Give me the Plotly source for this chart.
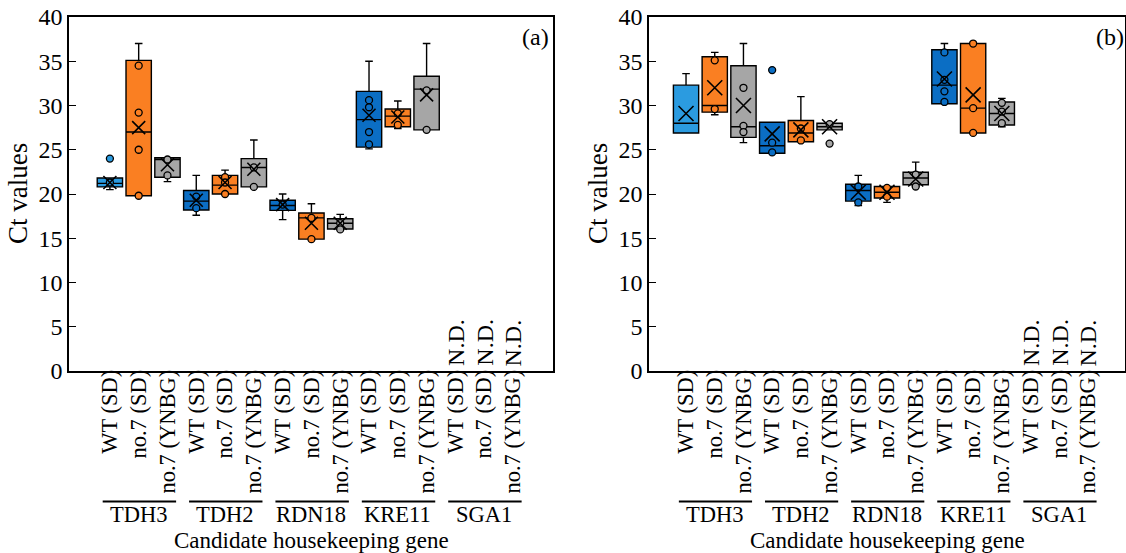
import plotly.graph_objects as go

# ---------------- data ----------------
genes = ["TDH3", "TDH2", "RDN18", "KRE11", "SGA1"]
conditions = ["WT (SD)", "no.7 (SD)", "no.7 (YNBG)"]
tick_labels = [c for g in genes for c in conditions]
nd_labels = ["N.D.", "N.D.", "N.D."]  # SGA1 not detected

# Panel (a)
a_q1 = [20.8, 19.8, 21.9, 18.2, 20.0, 20.8, 18.15, 14.9, 16.05, 25.3, 27.6, 27.25]
a_med = [21.2, 27.0, 23.9, 19.2, 21.0, 23.0, 18.7, 17.3, 16.7, 28.4, 28.8, 31.85]
a_q3 = [21.8, 35.1, 24.1, 20.4, 22.1, 24.0, 19.3, 17.85, 17.2, 31.6, 29.6, 33.3]
a_lo = [20.5, 19.8, 21.4, 17.6, 20.0, 20.8, 17.1, 14.9, 16.0, 25.1, 27.4, 27.25]
a_hi = [21.8, 37.0, 24.1, 22.1, 22.7, 26.1, 20.0, 18.9, 17.7, 35.0, 30.5, 37.0]
a_mean = [21.3, 27.5, 23.3, 19.3, 21.3, 22.8, 18.8, 16.7, 16.7, 28.9, 28.7, 31.2]
a_points = [[21.3], [34.5, 29.2, 25.0, 19.8], [23.9, 22.1], [19.7, 18.4],
            [21.9, 21.3, 20.0], [23.0, 20.8], [18.8], [17.3, 14.9], [16.7, 16.0],
            [30.6, 29.8, 27.0, 25.6], [29.1, 27.8], [31.7, 27.25]]
a_outliers = [[24.0], [], [], [], [], [], [], [], [], [], [], []]

# Panel (b)
b_q1 = [26.9, 29.25, 26.4, 24.6, 25.9, 27.25, 19.2, 19.55, 21.05, 30.2, 26.9, 27.8]
b_med = [28.0, 30.0, 27.6, 25.45, 26.9, 27.6, 20.4, 20.2, 21.8, 32.3, 29.7, 29.1]
b_q3 = [32.3, 35.5, 34.5, 28.1, 28.3, 28.0, 21.1, 20.85, 22.45, 36.3, 37.0, 30.4]
b_lo = [26.9, 28.95, 25.8, 24.6, 25.9, 27.25, 18.7, 19.05, 20.85, 30.2, 26.9, 27.6]
b_hi = [33.6, 36.0, 37.0, 28.1, 31.0, 28.0, 22.1, 20.85, 23.6, 37.0, 37.0, 30.8]
b_mean = [29.1, 32.0, 30.0, 26.8, 27.25, 27.6, 20.2, 20.2, 21.7, 33.0, 31.2, 29.1]
b_points = [[], [35.1, 29.6], [32.0, 27.7, 27.0], [25.8, 24.7], [27.4, 26.05], [27.9],
            [20.85, 19.05], [20.7, 19.7], [22.2, 20.85], [36.0, 32.9, 31.6, 30.4],
            [37.0, 29.7, 26.9], [30.3, 29.3, 28.0]]
b_outliers = [[], [], [], [34.0], [], [25.7], [], [], [], [], [], []]

# ---------------- style ----------------
BLUE = "#0B6EC4"
LIGHT_BLUE = "#2B9BE0"
ORANGE = "#FA7F22"
GRAY = "#A6A6A6"
FONT = "Liberation Serif"


def box_color(i):
    if i == 0:
        return LIGHT_BLUE
    return [BLUE, ORANGE, GRAY][i % 3]


fig = go.Figure()


def add_panel(xa, ya, q1, med, q3, lo, hi, mean, pts, outs, xsize):
    for i in range(len(q1)):
        col = box_color(i)
        fig.add_trace(go.Box(
            x=[i], q1=[q1[i]], median=[med[i]], q3=[q3[i]],
            lowerfence=[lo[i]], upperfence=[hi[i]],
            width=0.88, fillcolor=col, line=dict(color="black", width=1.4),
            whiskerwidth=0.3, boxpoints=False, showlegend=False,
            xaxis=xa, yaxis=ya, hoverinfo="skip"))
        allp = pts[i] + outs[i]
        if allp:
            fig.add_trace(go.Scatter(
                x=[i] * len(allp), y=allp, mode="markers",
                marker=dict(symbol="circle", size=7, color=col,
                            line=dict(color="black", width=1.3)),
                showlegend=False, xaxis=xa, yaxis=ya, hoverinfo="skip"))
        fig.add_trace(go.Scatter(
            x=[i], y=[mean[i]], mode="markers",
            marker=dict(symbol="x-thin", size=xsize,
                        line=dict(color="black", width=1.6)),
            showlegend=False, xaxis=xa, yaxis=ya, hoverinfo="skip"))


add_panel("x", "y", a_q1, a_med, a_q3, a_lo, a_hi, a_mean, a_points, a_outliers, 13)
add_panel("x2", "y2", b_q1, b_med, b_q3, b_lo, b_hi, b_mean, b_points, b_outliers, 15)

W, H = 1126, 553
TOP, BOT = 17, 371
PH = BOT - TOP

axis_common = dict(showline=True, linecolor="black", linewidth=1.6, mirror=True,
                   showgrid=False, zeroline=False, automargin=False)
yax = dict(range=[0, 40], dtick=5, ticks="inside", ticklen=7, tickcolor="black",
           tickwidth=1.3, tickfont=dict(family=FONT, size=24, color="black"),
           domain=[0, 1], **axis_common)
xax = dict(tickvals=list(range(15)), ticktext=tick_labels, tickangle=-90, ticks="",
           ticklabelstandoff=-12,
           tickfont=dict(family=FONT, size=22.5, color="black"), **axis_common)

fig.update_layout(
    width=W, height=H,
    margin=dict(l=0, r=0, t=TOP, b=H - BOT),
    plot_bgcolor="white", paper_bgcolor="white",
    xaxis=dict(domain=[69 / W, 553 / W], range=[-1.42, 15.39], anchor="y", **xax),
    yaxis=dict(anchor="x", **yax),
    xaxis2=dict(domain=[649 / W, 1125 / W], range=[-1.29, 15.29], anchor="y2", **xax),
    yaxis2=dict(anchor="x2", **yax),
    font=dict(family=FONT, color="black"),
)


def py(pix):
    return (BOT - pix) / PH


annotations = []
shapes = []
for xa, ya, xpaper_title, label, lab_x in [("x", "y", 18, "(a)", 535), ("x2", "y2", 598, "(b)", 1110)]:
    annotations.append(dict(text="Ct values", textangle=-90, x=xpaper_title / W, y=0.5,
                            xref="paper", yref="paper", xanchor="center", yanchor="middle",
                            showarrow=False,
                            font=dict(family=FONT, size=27, color="black")))
    annotations.append(dict(text=label, x=lab_x / W, y=py(37), xref="paper", yref="paper",
                            xanchor="center", yanchor="middle",
                            showarrow=False, font=dict(family=FONT, size=24, color="black")))
    for gi, g in enumerate(genes):
        c = gi * 3 + 1
        shapes.append(dict(type="line", xref=xa, yref="paper", x0=c - 1.25, x1=c + 1.3,
                           y0=py(501.5), y1=py(501.5), line=dict(color="black", width=2)))
        annotations.append(dict(text=g, x=c, y=py(514.5), xref=xa, yref="paper",
                                showarrow=False, yanchor="middle", borderpad=0,
                                font=dict(family=FONT, size=22.5, color="black")))
    for k, t in enumerate(nd_labels):
        annotations.append(dict(text=t, x=12 + k, y=0, xref=xa, yref=ya, textangle=-90,
                                yanchor="bottom", yshift=3, showarrow=False,
                                font=dict(family=FONT, size=24, color="black")))
    annotations.append(dict(text="Candidate housekeeping gene", x=7, y=py(540.5), xref=xa,
                            yref="paper", showarrow=False, yanchor="middle", borderpad=0,
                            font=dict(family=FONT, size=23, color="black")))

fig.update_layout(annotations=annotations, shapes=shapes)
fig.write_html("out.html", config={"displayModeBar": False},
               post_script="document.body.style.margin='0';document.body.style.overflow='hidden';")
